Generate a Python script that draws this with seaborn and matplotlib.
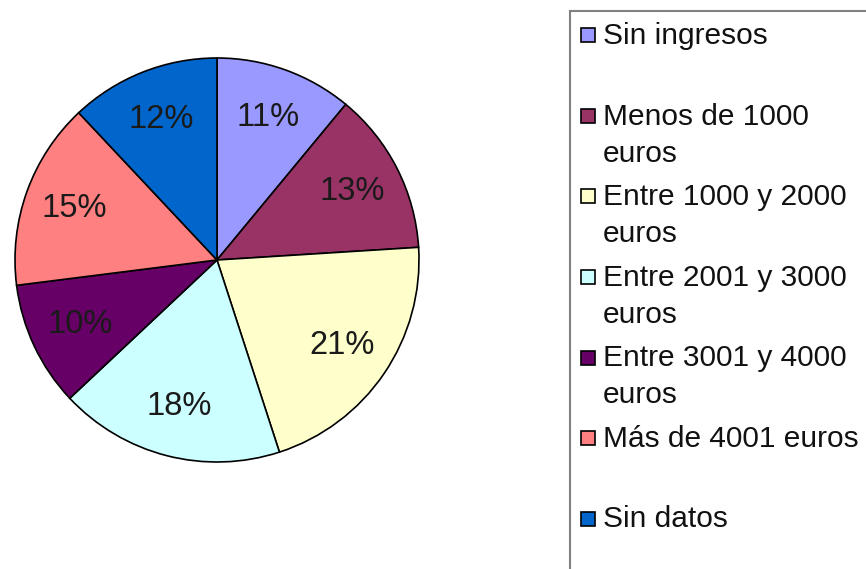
import matplotlib
matplotlib.use("Agg")
import matplotlib.pyplot as plt
import seaborn as sns
from matplotlib.legend_handler import HandlerPatch
from matplotlib.patches import Rectangle

# Household income groups and their share of respondents (%)
categories = [
    "Sin ingresos",
    "Menos de 1000 euros",
    "Entre 1000 y 2000 euros",
    "Entre 2001 y 3000 euros",
    "Entre 3001 y 4000 euros",
    "Más de 4001 euros",
    "Sin datos",
]
legend_labels = [
    "Sin ingresos\n",
    "Menos de 1000\neuros",
    "Entre 1000 y 2000\neuros",
    "Entre 2001 y 3000\neuros",
    "Entre 3001 y 4000\neuros",
    "Más de 4001 euros\n",
    "Sin datos",
]
shares = [11, 13, 21, 18, 10, 15, 12]
colors = ["#9999FF", "#993366", "#FFFFCC", "#CCFFFF", "#660066", "#FF8080", "#0066CC"]

sns.set_theme(style="white")
plt.rcParams["font.family"] = ["Liberation Sans", "DejaVu Sans"]

W, H = 866, 569
FS = 21.5
fig = plt.figure(figsize=(W / 100, H / 100), dpi=100)

# pie axes placed in pixel units
cx, cy, r = 217, 260, 202
pad = 1.03
ax = fig.add_axes([(cx - r * pad) / W, (H - cy - r * pad) / H, 2 * r * pad / W, 2 * r * pad / H])
palette = sns.color_palette(colors)
wedges, texts, autotexts = ax.pie(
    shares,
    colors=palette,
    startangle=90,
    counterclock=False,
    autopct=lambda p: f"{p:.0f}%",
    pctdistance=0.75,
    wedgeprops=dict(edgecolor="black", linewidth=1.2),
    textprops=dict(fontsize=23.5, color="#1a1a1a"),
)
ax.set_xlim(-pad, pad)
ax.set_ylim(-pad, pad)
ax.set_aspect("equal")


def square_key(legend, orig_handle, xdescent, ydescent, width, height, fontsize):
    # square colour key sitting in the lower part of the handle box
    return Rectangle((-xdescent, -ydescent), width, width)


box_left, box_top = 570 / W, 1 - 11 / H
leg = fig.legend(
    wedges,
    legend_labels,
    loc="upper left",
    bbox_to_anchor=(box_left, box_top),
    bbox_transform=fig.transFigure,
    borderaxespad=0,
    frameon=False,
    fontsize=FS,
    handlelength=0.47,
    handleheight=0.67,
    handletextpad=0.27,
    borderpad=0.37,
    labelspacing=0.52,
    handler_map={w: HandlerPatch(patch_func=square_key) for w in wedges},
)
for t in leg.get_texts():
    t.set_linespacing(1.41)
    t.set_color("#111111")
# keep each colour box level with the first line of its label
for column in leg._legend_handle_box.get_children():
    for item in column.get_children():
        item.align = "top"

# legend border running on past the right and bottom edges
fig.patches.append(
    Rectangle(
        (box_left, -0.1), 1.0, box_top + 0.1,
        transform=fig.transFigure, fill=False,
        edgecolor="#808080", linewidth=1.5, zorder=0,
    )
)

fig.savefig("out.png", dpi=100)
